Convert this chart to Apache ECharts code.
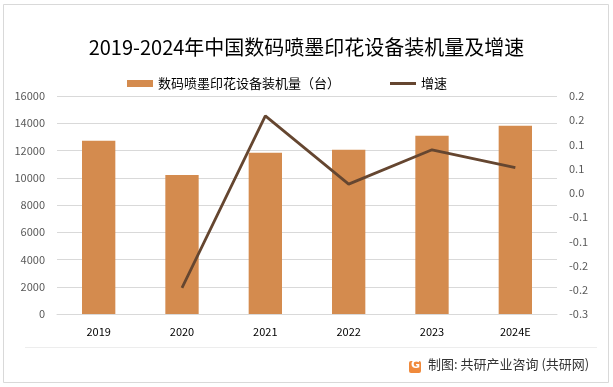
<!DOCTYPE html>
<html><head><meta charset="utf-8">
<script src="https://cdn.jsdelivr.net/npm/echarts@6/dist/echarts.min.js"></script>
<style>html,body{margin:0;padding:0;background:#fff}#c{width:613px;height:387px}</style>
</head><body><div id="c"></div>
<script>
const categories = ['2019','2020','2021','2022','2023','2024E'];
const installs = [12720, 10200, 11840, 12060, 13090, 13820];
const growth = [null, -0.196, 0.159, 0.018, 0.089, 0.052];
const rightTickValues = [-0.25,-0.2,-0.15,-0.1,-0.05,0,0.05,0.1,0.15,0.2];
const rightTickLabels = ['-0.3','-0.2','-0.2','-0.1','-0.1','0.0','0.1','0.1','0.2','0.2'];
const barName = '数码喷墨印花设备装机量（台）';
const lineName = '增速';
const titleText = '2019-2024年中国数码喷墨印花设备装机量及增速';
const footerText = '制图: 共研产业咨询 (共研网)';

const font = '"Noto Sans CJK SC", "Noto Sans", sans-serif';
const chart = echarts.init(document.getElementById('c'), null, {renderer:'canvas'});
chart.setOption({
  backgroundColor:'#fff',
  animation:false,
  textStyle:{fontFamily:font},
  title:{text:titleText, left:'center', top:32,
    textStyle:{fontFamily:font, fontSize:20, fontWeight:'normal', color:'#000'}},
  legend:{top:72, left:122, itemGap:50, itemWidth:26, itemHeight:7,
    textStyle:{fontFamily:font, fontSize:13, color:'#000'},
    data:[{name:barName, icon:'rect'},
          {name:lineName, icon:'path://M0,0H26V3H0Z', itemStyle:{color:'#654630'}}]},
  grid:{left:57, right:56, top:96, bottom:73, containLabel:false},
  xAxis:{type:'category', data:categories,
    axisLine:{lineStyle:{color:'#D9D9D9'}}, axisTick:{show:false},
    axisLabel:{color:'#000', fontSize:11, margin:12, fontFamily:font}},
  yAxis:[
    {type:'value', min:0, max:16000, interval:2000,
     axisLine:{show:false}, axisTick:{show:false},
     splitLine:{lineStyle:{color:'#D9D9D9'}},
     axisLabel:{color:'#595959', fontSize:11, margin:12, fontFamily:font,
       formatter:function(v){ return String(v); }}},
    {type:'value', min:-0.25, max:0.2, interval:0.05,
     axisLine:{show:false}, axisTick:{show:false}, splitLine:{show:false},
     axisLabel:{color:'#595959', fontSize:11, margin:12, fontFamily:font,
       formatter:function(v){
         let best=0, bd=1e9;
         rightTickValues.forEach((t,i)=>{const d=Math.abs(t-v); if(d<bd){bd=d;best=i;}});
         return rightTickLabels[best];
       }}}
  ],
  series:[
    {name:barName, type:'bar', data:installs, barWidth:'40%', itemStyle:{color:'#D48B4E'}},
    {name:lineName, type:'line', yAxisIndex:1, data:growth, symbol:'none',
     lineStyle:{color:'#654630', width:2.8}, itemStyle:{color:'#654630'}}
  ],
  graphic:[
    {type:'rect', shape:{x:3.5,y:4.5,width:605,height:378}, style:{fill:'none', stroke:'#D9D9D9', lineWidth:1}, silent:true},
    {type:'line', shape:{x1:25,y1:347.5,x2:597,y2:347.5}, style:{stroke:'#EDEDED', lineWidth:1}, silent:true},
    {type:'rect', shape:{x:409,y:361,width:12,height:12, r:2}, style:{fill:'#F08A3C'}, silent:true},
    {type:'text', left:411, top:360, style:{text:'G', fill:'#fff', font:'bold 11px "DejaVu Sans"'}, silent:true},
    {type:'text', left:428, top:358, style:{text:footerText, fill:'#333', font:'13px "Noto Sans CJK SC"'}, silent:true}
  ]
});
</script></body></html>
